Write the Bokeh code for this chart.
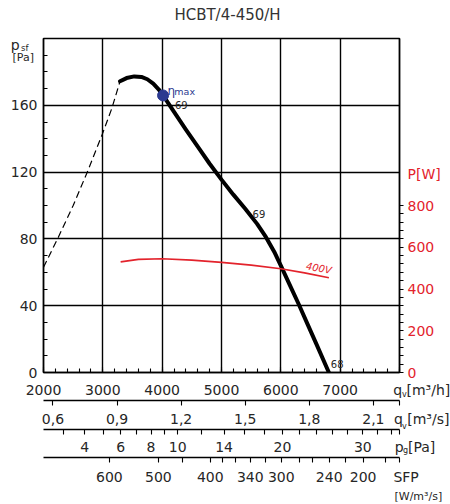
import numpy as np
from bokeh.plotting import figure
from bokeh.models import Range1d, LinearAxis, FixedTicker, Label, Grid
from bokeh.embed import file_html
from bokeh.resources import INLINE

TITLE = "HCBT/4-450/H"

# unstable (dashed) part of the fan curve: q [m3/h], p_sf [Pa]
q_unstable = [2000, 2250, 2500, 2750, 3000, 3150, 3290]
p_unstable = [63.0, 81.0, 100.0, 121.0, 143.5, 158.0, 174.4]

# stable part of the fan curve
q_curve = [3290, 3400, 3530, 3650, 3750, 3850, 3940, 4015, 4200, 4400, 4600, 4800,
           5000, 5200, 5400, 5600, 5750, 5900, 6000, 6150, 6300, 6450, 6600, 6810]
p_curve = [174.4, 176.3, 177.3, 177.0, 175.6, 173.0, 169.6, 165.9, 156.0, 145.5, 135.2, 125.0,
           115.5, 106.5, 98.0, 89.0, 81.0, 71.5, 64.0, 52.5, 41.0, 29.0, 17.0, 0.0]

# power curve 400V: q [m3/h], P [W]
q_power = [3300, 3600, 4000, 4500, 5000, 5500, 6000, 6400, 6810]
power_w = [530, 542, 545, 538, 528, 514, 497, 477, 454]

# efficiency maximum
eta_q = [4015]
eta_p = [165.9]

# axis ticks
x_major = [2000, 3000, 4000, 5000, 6000, 7000]
y_major = [0, 40, 80, 120, 160]
pw_major = [0, 200, 400, 600, 800]
qs_major = [0.6, 0.9, 1.2, 1.5, 1.8, 2.1]
pg_all = [3, 4, 5, 6, 7, 8, 9, 10, 12, 14, 16, 18, 20, 22, 24, 26, 28, 30, 32, 34]
pg_labeled = [4, 6, 8, 10, 14, 20, 30]
sfp_labels = [600, 500, 400, 340, 300, 240, 200]
sfp_label_q = [3111, 3936, 4811, 5485, 6007, 6815, 7387]
sfp_minor_q = [4340, 5013, 5232, 5737, 6310, 6529, 7084, 7757]
outlet_area = 0.29   # m2
rho = 1.2            # kg/m3

# axis titles
NB = "\u00a0"
T_QH = "q" + NB + "[m³/h]"
T_QS = "q" + NB + "[m³/s]"
T_PG = "p" + NB + "[Pa]"
T_SUB_V = "v\n\n\nv"
T_SUB_G = "g"
T_SFP = "SFP"
T_SFP_UNIT = "[W/m³/s]"
T_PSF = "p"
T_PW = "P[W]"

FONT = "DejaVu Sans"
INK = "#262626"
RED = "#e3232c"
BLUE = "#2b3990"

# frame geometry (pixels)
W, H = 450, 504
FL, FT, FW, FH = 41, 38, 356, 334
FB = FT + FH
X0, X1, Y0, Y1 = 2000, 8000, 0, 200
X_END = X1 - 1          # tick slot used for the axis titles at the right end
P_TITLE_Y = 953         # P[W] title position on the power scale
PSF_TITLE_Y = 196       # p_sf title position on the pressure scale

p = figure(frame_width=FW, frame_height=FH,
           min_border_left=FL, min_border_right=W - FL - FW,
           min_border_top=FT, min_border_bottom=H - FB,
           x_range=Range1d(X0, X1), y_range=Range1d(Y0, Y1),
           x_axis_type=None, y_axis_type=None,
           output_backend="svg", toolbar_location=None)
p.extra_y_ranges = {"power": Range1d(0, 1600)}
p.outline_line_color = "black"
p.outline_line_width = 1.5
p.background_fill_color = "white"
p.border_fill_color = "white"

# grids
p.add_layout(Grid(dimension=0, ticker=FixedTicker(ticks=x_major),
                  grid_line_color="black", grid_line_width=1.4))
p.add_layout(Grid(dimension=1, ticker=FixedTicker(ticks=y_major),
                  grid_line_color="black", grid_line_width=1.4))


def style_axis(ax, color=INK):
    ax.axis_line_color = "black"
    ax.axis_line_width = 1.4
    ax.major_tick_line_color = "black"
    ax.minor_tick_line_color = "black"
    ax.major_tick_line_width = 1.1
    ax.minor_tick_line_width = 1.1
    ax.major_label_text_font = FONT
    ax.major_label_text_font_size = "14px"
    ax.major_label_text_color = color


# main x axis q [m3/h]
ax_main = LinearAxis(ticker=FixedTicker(ticks=x_major + [X_END],
                                        minor_ticks=list(range(2000, 8001, 200))))
style_axis(ax_main)
ax_main.major_tick_in = 6
ax_main.major_tick_out = 0
ax_main.minor_tick_in = 4
ax_main.minor_tick_out = 0
ax_main.major_label_standoff = 9
ax_main.major_label_overrides = {X_END: NB * 10 + T_QH}
p.add_layout(ax_main, "below")

# q [m3/s]
qs_ticks = [round(v * 3600) for v in qs_major]
ax_qs = LinearAxis(ticker=FixedTicker(ticks=qs_ticks + [X_END], minor_ticks=[]))
style_axis(ax_qs)
ax_qs.major_tick_in = 0
ax_qs.major_tick_out = 5
ax_qs.minor_tick_out = 0
ax_qs.major_label_standoff = 5
ov = {t: f"{v:.1f}".replace(".", ",") for t, v in zip(qs_ticks, qs_major)}
ov[X_END] = NB * 10 + T_QS
ax_qs.major_label_overrides = ov
p.add_layout(ax_qs, "below")

# dynamic pressure p_g [Pa]
k_pg = 3600 * outlet_area / np.sqrt(rho / 2)
pg_major_q = [int(round(k_pg * np.sqrt(v))) for v in pg_labeled]
pg_minor_q = [int(round(k_pg * np.sqrt(v))) for v in pg_all if v not in pg_labeled]
ax_pg = LinearAxis(ticker=FixedTicker(ticks=pg_major_q + [X_END], minor_ticks=pg_minor_q))
style_axis(ax_pg)
ax_pg.major_tick_in = 0
ax_pg.major_tick_out = 5
ax_pg.minor_tick_in = 0
ax_pg.minor_tick_out = 5
ax_pg.major_label_standoff = 4
ov = {t: str(v) for t, v in zip(pg_major_q, pg_labeled)}
ov[X_END] = NB * 7 + T_PG
ax_pg.major_label_overrides = ov
p.add_layout(ax_pg, "below")

# SFP
ax_sfp = LinearAxis(ticker=FixedTicker(ticks=sfp_label_q + [X_END], minor_ticks=sfp_minor_q))
style_axis(ax_sfp)
ax_sfp.major_tick_in = 0
ax_sfp.major_tick_out = 5
ax_sfp.minor_tick_in = 0
ax_sfp.minor_tick_out = 5
ax_sfp.major_label_standoff = 6
ov = {t: str(v) for t, v in zip(sfp_label_q, sfp_labels)}
ov[X_END] = NB * 3 + T_SFP
ax_sfp.major_label_overrides = ov
p.add_layout(ax_sfp, "below")

# left axis p_sf
ax_left = LinearAxis(ticker=FixedTicker(ticks=y_major + [PSF_TITLE_Y],
                                        minor_ticks=list(range(0, 201, 10))))
style_axis(ax_left)
ax_left.major_tick_in = 0
ax_left.major_tick_out = 0
ax_left.minor_tick_in = 4
ax_left.minor_tick_out = 0
ax_left.major_label_standoff = 6
ax_left.major_label_overrides = {PSF_TITLE_Y: T_PSF + NB * 4}
p.add_layout(ax_left, "left")

# right axis P [W]
ax_right = LinearAxis(y_range_name="power",
                      ticker=FixedTicker(ticks=pw_major + [P_TITLE_Y],
                                         minor_ticks=list(range(0, 801, 40))))
style_axis(ax_right, RED)
ax_right.major_tick_in = 0
ax_right.major_tick_out = 0
ax_right.minor_tick_in = 0
ax_right.minor_tick_out = 4
ax_right.major_label_standoff = 4
ax_right.major_label_overrides = {P_TITLE_Y: T_PW}
p.add_layout(ax_right, "right")

# curves
p.line(q_unstable, p_unstable, line_color="black", line_width=1.2, line_dash="7 4")
p.line(q_curve, p_curve, line_color="black", line_width=4, line_cap="round", line_join="round")
p.line(q_power, power_w, y_range_name="power", line_color=RED, line_width=1.7)
p.scatter(eta_q, eta_p, size=11, fill_color=BLUE, line_color=BLUE)


def lab(x, y, text, size="14px", color=INK, align="left", baseline="middle",
        style="normal", angle=0.0, place=None, line_height=1.2):
    lb = Label(x=x, y=y, text=text, text_font=FONT, text_font_size=size,
               text_color=color, text_align=align, text_baseline=baseline,
               text_font_style=style, angle=angle, text_line_height=line_height)
    if place:
        p.add_layout(lb, place)
    else:
        p.add_layout(lb)


def lab_px(px, py, text, place, **kw):
    # texts outside the frame: canvas pixels converted to data units of the frame
    x = X0 + (px - FL) / FW * (X1 - X0)
    y = Y0 + (FB - py) / FH * (Y1 - Y0)
    lab(x, y, text, place=place, **kw)


# in-plot annotations
lab(4088, 168.8, "η", size="12px", color=BLUE)
lab(4205, 168.3, "max", size="9.5px", color=BLUE)
lab(4215, 159.9, "69", size="10px")
lab(5631, 95.0, "69", size="10px", align="center")
lab(6949, 5.0, "68", size="10px", align="center")
lab(6641, 62.5, "400V", size="10px", color=RED, align="center", style="italic", angle=-0.18)

# texts outside the frame (side panels, so they are not clipped)
lab_px(225, 14, TITLE, "above", size="15px", color="#333333", align="center")
lab_px(10, 57, "[Pa]", "above", size="11px")
lab_px(18.5, 47, "sf", "left", size="8.5px")
lab_px(399.5, 389.5, T_SUB_V, "right", size="8px", baseline="top", line_height=1.2)
lab_px(400.5, 450, T_SUB_G, "right", size="8px")
lab_px(392, 496, T_SFP_UNIT, "below", size="11px")

open("out.html", "w").write(file_html(p, INLINE))
